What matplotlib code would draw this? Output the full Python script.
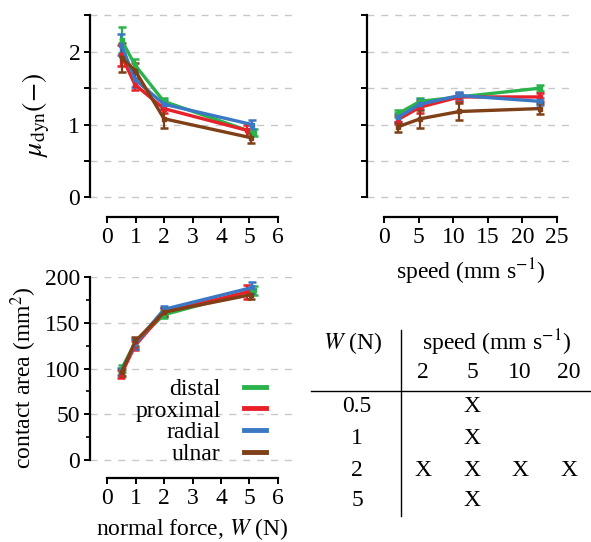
import numpy as np
import matplotlib
matplotlib.use("Agg")
import matplotlib.pyplot as plt
from matplotlib.lines import Line2D
from matplotlib.ticker import MultipleLocator, FuncFormatter

plt.rcParams["font.family"] = ["Liberation Serif", "DejaVu Serif"]
plt.rcParams["mathtext.fontset"] = "stix"
plt.rcParams["font.size"] = 17

SITES  = ["distal", "proximal", "radial", "ulnar"]
COLORS = ["#2bb34b", "#e8202a", "#3b78c4", "#7f3f17"]

# friction vs normal force (speed 5 mm/s)
W_force = {
    "distal":   [0.51, 0.98, 1.99, 5.15],
    "proximal": [0.50, 0.98, 1.99, 4.93],
    "radial":   [0.50, 0.98, 2.00, 5.10],
    "ulnar":    [0.51, 0.99, 2.00, 5.05],
}
mu_force = {
    "distal":   [2.16, 1.82, 1.32, 0.89],
    "proximal": [1.95, 1.55, 1.22, 0.92],
    "radial":   [2.10, 1.62, 1.28, 1.00],
    "ulnar":    [1.92, 1.74, 1.08, 0.82],
}
mu_force_err = {
    "distal":   [0.18, 0.08, 0.05, 0.05],
    "proximal": [0.15, 0.08, 0.06, 0.07],
    "radial":   [0.15, 0.10, 0.06, 0.06],
    "ulnar":    [0.20, 0.10, 0.13, 0.07],
}

# friction vs sliding speed (W = 2 N)
speed = [2.0, 5.2, 10.9, 22.5]
mu_speed = {
    "distal":   [1.15, 1.32, 1.38, 1.50],
    "proximal": [1.07, 1.24, 1.38, 1.38],
    "radial":   [1.10, 1.28, 1.40, 1.32],
    "ulnar":    [0.97, 1.08, 1.18, 1.22],
}
mu_speed_err = {
    "distal":   [0.05, 0.05, 0.05, 0.04],
    "proximal": [0.06, 0.08, 0.06, 0.06],
    "radial":   [0.06, 0.07, 0.05, 0.05],
    "ulnar":    [0.07, 0.12, 0.12, 0.07],
}

# contact area vs normal force
area = {
    "distal":   [100, 128, 159, 186],
    "proximal": [94, 125, 162, 184],
    "radial":   [97, 127, 165, 189],
    "ulnar":    [96, 130, 162, 181],
}
area_err = {
    "distal":   [4, 5, 4, 5],
    "proximal": [4, 5, 4, 8],
    "radial":   [4, 5, 4, 6],
    "ulnar":    [4, 5, 4, 5],
}

# test matrix
tab_W      = ["0.5", "1", "2", "5"]
tab_speeds = ["2", "5", "10", "20"]
tab_done   = [(0, 1), (1, 1), (2, 0), (2, 1), (2, 2), (2, 3), (3, 1)]

FW, FH = 591, 542
fig = plt.figure(figsize=(FW / 100, FH / 100), dpi=100)

def fx(px):
    return px / FW

def fy(py):
    return 1 - py / FH

ax1 = fig.add_axes([fx(90), fy(217), fx(205), 203 / FH])
ax2 = fig.add_axes([fx(367), fy(217), fx(207), 203 / FH])
ax3 = fig.add_axes([fx(90), fy(478), fx(205), 201 / FH])

def style(ax, xb, yb):
    for s in ["top", "right"]:
        ax.spines[s].set_visible(False)
    ax.spines["left"].set_bounds(*yb)
    ax.spines["bottom"].set_bounds(*xb)
    for s in ["left", "bottom"]:
        ax.spines[s].set_linewidth(1.6)
    ax.tick_params(width=1.4, length=4, labelsize=17, pad=3)
    ax.tick_params(which="minor", width=1.2, length=3)
    ax.yaxis.grid(True, color="#c8c8c8", linestyle=(0, (5, 5)), linewidth=1.0)
    ax.set_axisbelow(True)

eb = dict(lw=2.4, elinewidth=1.6, capsize=3, capthick=1.8, marker="s", ms=3.5)

for site, c in zip(SITES, COLORS):
    ax1.errorbar(W_force[site], mu_force[site], yerr=mu_force_err[site], color=c, **eb)
    ax2.errorbar(speed, mu_speed[site], yerr=mu_speed_err[site], color=c, **eb)
    ax3.errorbar(W_force[site], area[site], yerr=area_err[site], color=c, **eb)

int_only = FuncFormatter(lambda v, p: f"{v:g}" if abs(v - round(v)) < 1e-6 else "")

ax1.set_xlim(-0.6, 6.6)
ax1.set_ylim(-0.27, 2.52)
ax1.set_xticks(range(0, 7))
ax1.yaxis.set_major_locator(MultipleLocator(0.5))
ax1.yaxis.set_major_formatter(int_only)
style(ax1, (0, 6), (0, 2.5))
ax1.set_ylabel(r"$\mu_{\mathrm{dyn}}(-)$", fontsize=20, labelpad=12)

ax2.set_xlim(-2.5, 27.5)
ax2.set_ylim(-0.27, 2.52)
ax2.set_xticks(range(0, 26, 5))
ax2.yaxis.set_major_locator(MultipleLocator(0.5))
ax2.set_yticklabels([])
style(ax2, (0, 25), (0, 2.5))
ax2.set_xlabel(r"speed (mm s$^{-1}$)", fontsize=17, labelpad=6)

ax3.set_xlim(-0.6, 6.6)
ax3.set_ylim(-20, 200.5)
ax3.set_xticks(range(0, 7))
ax3.yaxis.set_major_locator(MultipleLocator(50))
ax3.yaxis.set_minor_locator(MultipleLocator(25))
style(ax3, (0, 6), (0, 200))
ax3.set_ylabel(r"contact area (mm$^2$)", fontsize=17, labelpad=4)
ax3.set_xlabel(r"normal force, $W$ (N)", fontsize=17, labelpad=5)

handles = [Line2D([], [], color=c, lw=3.5) for c in COLORS]
ax3.legend(handles, SITES, markerfirst=False, frameon=False, fontsize=17,
           handlelength=0.9, handletextpad=1.0, labelspacing=0.0,
           loc="lower right", bbox_to_anchor=(0.96, -0.04))

# test matrix drawn as text
fig.add_artist(Line2D([fx(401), fx(401)], [fy(330), fy(516)], color="k", lw=1.0))
fig.add_artist(Line2D([fx(311), fx(590)], [fy(391), fy(391)], color="k", lw=1.0))
fig.text(fx(353), fy(343), r"$W$ (N)", ha="center", va="center", fontsize=17)
fig.text(fx(497), fy(343), r"speed (mm s$^{-1}$)", ha="center", va="center", fontsize=17)
col_x = [423, 472, 520, 569]
row_y = [407, 438, 470, 500]
for lbl, x in zip(tab_speeds, col_x):
    fig.text(fx(x), fy(373), lbl, ha="center", va="center", fontsize=17)
for lbl, y in zip(tab_W, row_y):
    fig.text(fx(357), fy(y), lbl, ha="center", va="center", fontsize=17)
for i, j in tab_done:
    fig.text(fx(col_x[j]), fy(row_y[i]), "X", ha="center", va="center", fontsize=17)

fig.savefig("out.png", dpi=100)
